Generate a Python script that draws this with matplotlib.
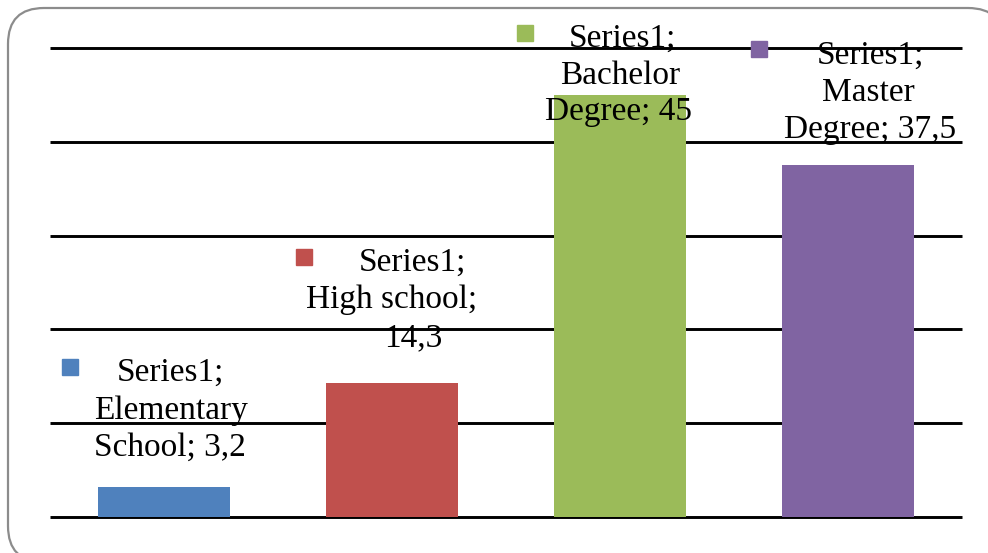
import matplotlib
matplotlib.use("Agg")
import matplotlib.pyplot as plt
from matplotlib.patches import FancyBboxPatch
from matplotlib.transforms import ScaledTranslation

categories = ["Elementary School", "High school", "Bachelor Degree", "Master Degree"]
values = [3.2, 14.3, 45, 37.5]
value_labels = ["3,2", "14,3", "45", "37,5"]
series_name = "Series1"
colors = ["#4F81BD", "#C0504D", "#9BBB59", "#8064A2"]

# label line texts (Excel-style wrapping)
label_lines = [
    [f"{series_name};", "Elementary", f"School; {value_labels[0]}"],
    [f"{series_name};", "High school;", value_labels[1]],
    [f"{series_name};", "Bachelor", f"Degree; {value_labels[2]}"],
    [f"{series_name};", "Master", f"Degree; {value_labels[3]}"],
]
# layout: per-line (dx, dy) in pixels from bar top-centre; key offsets
line_offsets = [
    [(6, 114), (7, 76), (6, 39)],
    [(20, 120), (0, 83), (21, 45)],
    [(2, 56), (0, 19), (-2, -17)],
    [(22, 110), (20, 72), (22, 35)],
]
key_offsets = [(-94.5, 119.5), (-88, 125.5), (-95, 62), (-89, 116)]

W, H, DPI = 988, 553, 100
fig = plt.figure(figsize=(W / DPI, H / DPI), dpi=DPI)
ax = fig.add_axes([50 / W, 1 - 517 / H, 912 / W, 469 / H])
ax.patch.set_alpha(0)

x = list(range(len(categories)))
ax.bar(x, values, width=0.575, color=colors, zorder=3)
ax.set_xlim(-0.5, len(categories) - 0.5)
ax.set_ylim(0, 50)
for yv in range(0, 51, 10):
    ax.axhline(yv, color="black", lw=2.1, zorder=1, clip_on=False,
               solid_capstyle="butt")
ax.set_xticks([])
ax.set_yticks([])
for s in ax.spines.values():
    s.set_visible(False)

font = "Liberation Serif"
for i, v in enumerate(values):
    for txt, (dx, dy) in zip(label_lines[i], line_offsets[i]):
        ax.annotate(txt, xy=(i, v), xycoords="data", xytext=(dx, dy),
                    textcoords="offset pixels", ha="center", va="center",
                    fontsize=24, family=font, color="black", zorder=5,
                    annotation_clip=False)
    kx, ky = key_offsets[i]
    ax.plot([i], [v], marker="s", markersize=11.5, color=colors[i],
            linestyle="none", clip_on=False, zorder=5,
            transform=ax.transData + ScaledTranslation(
                kx / DPI, ky / DPI, fig.dpi_scale_trans))

border = FancyBboxPatch((8, H - 562), 996, 554,
                        boxstyle="round,pad=0,rounding_size=36",
                        transform=None, facecolor="white",
                        edgecolor="#8c8c8c", lw=1.6, zorder=-5)
fig.add_artist(border)

fig.savefig("out.png", dpi=DPI)
